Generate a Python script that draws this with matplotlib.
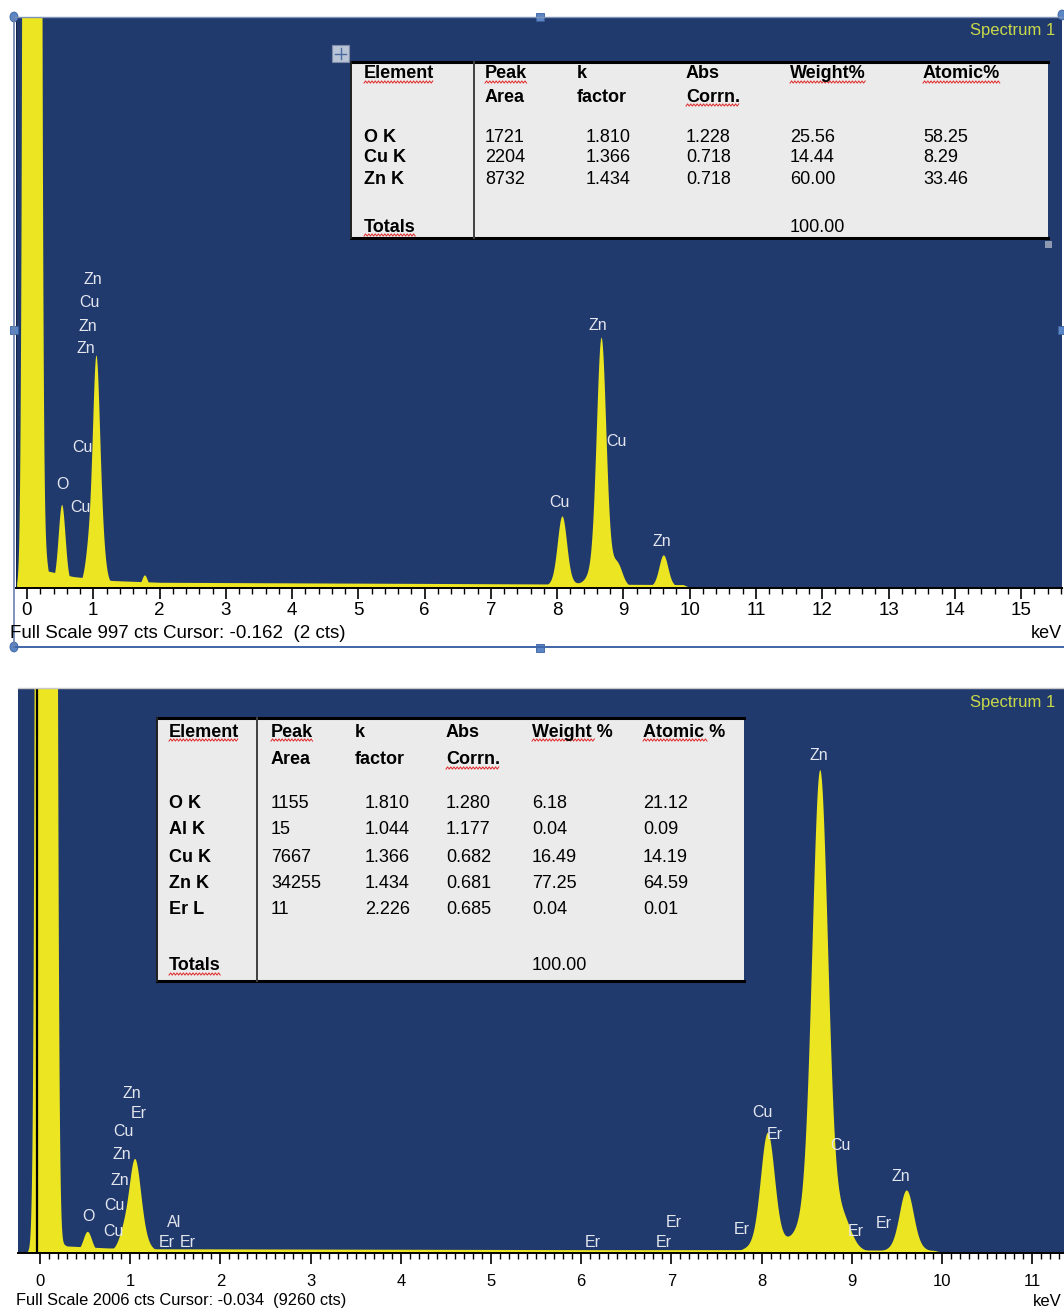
import numpy as np
import matplotlib
matplotlib.use('Agg')
import matplotlib.pyplot as plt
from matplotlib.patches import Rectangle, Circle
from matplotlib.lines import Line2D

W, H = 1064, 1312

BLUE = '#213a6e'
YELLOW = '#ece521'
LABEL_C = '#e4e6ee'
SPEC_C = '#c9d94a'
HANDLE_C = '#5b86c5'
TABLE_BG = '#ebebeb'
FONT = 'Liberation Sans'
NARROW = ['Liberation Sans Narrow', 'Liberation Sans']
TAIL = 0.12   # share of each line put into a wider foot

# ---------------- spectrum 1 (upper, ZnO/Cu) ----------------
top_full_scale = 997
top_cursor = -0.162
top_status = 'Full Scale 997 cts Cursor: -0.162  (2 cts)'
top_noise = (0.08, 50000, 0.055)          # zero-energy strobe peak (kev, cts, sigma)
top_peak_kev = [0.28, 0.53, 0.94, 1.045, 1.12, 1.78, 8.08, 8.67, 8.92, 9.61]
top_peak_cts = [45, 145, 50, 370, 70, 22, 125, 436, 30, 57]
top_peak_sig = [0.04, 0.05, 0.05, 0.05, 0.05, 0.04, 0.068, 0.07, 0.07, 0.065]
top_bg_kev = [-0.2, 0.3, 0.7, 1.3, 2.0, 4.0, 6.0, 8.0, 9.9, 10.0, 15.7]
top_bg_cts = [0, 30, 20, 13, 10, 9, 8, 7, 6, 1, 1]
top_labels = ['Zn', 'Cu', 'Zn', 'Zn', 'Cu', 'O', 'Cu', 'Zn', 'Cu', 'Cu', 'Zn']
top_label_kev = [1.00, 0.935, 0.92, 0.89, 0.83, 0.53, 0.80, 8.61, 8.90, 8.04, 9.58]
top_label_cts = [538, 498, 457, 419, 246, 180, 141, 459, 255, 150, 82]

top_headers1 = ['Element', 'Peak', 'k', 'Abs', 'Weight%', 'Atomic%']
top_headers2 = ['', 'Area', 'factor', 'Corrn.', '', '']
top_elements = ['O K', 'Cu K', 'Zn K']
top_area = ['1721', '2204', '8732']
top_kfactor = ['1.810', '1.366', '1.434']
top_abs = ['1.228', '0.718', '0.718']
top_weight = ['25.56', '14.44', '60.00']
top_atomic = ['58.25', '8.29', '33.46']
top_total = '100.00'

# ---------------- spectrum 1 (lower, Er doped) ----------------
bot_full_scale = 2006
bot_cursor = -0.034
bot_status = 'Full Scale 2006 cts Cursor: -0.034  (9260 cts)'
bot_noise = (0.07, 130000, 0.045)
bot_peak_kev = [0.28, 0.53, 0.93, 1.05, 1.12, 8.07, 8.65, 8.92, 9.61]
bot_peak_cts = [25, 75, 50, 300, 50, 425, 1712, 60, 222]
bot_peak_sig = [0.04, 0.045, 0.05, 0.06, 0.06, 0.075, 0.085, 0.08, 0.075]
bot_bg_kev = [-0.25, 0.3, 0.75, 1.3, 3.0, 6.0, 7.9, 9.9, 10.0, 11.4]
bot_bg_cts = [0, 25, 18, 15, 14, 12, 12, 10, 3, 3]
bot_labels = ['Zn', 'Er', 'Cu', 'Zn', 'Zn', 'Cu', 'O', 'Cu', 'Al', 'Er', 'Er',
              'Er', 'Er', 'Er', 'Er', 'Cu', 'Er', 'Zn', 'Cu', 'Er', 'Er', 'Zn']
bot_label_kev = [1.02, 1.10, 0.93, 0.91, 0.885, 0.83, 0.54, 0.81, 1.49, 1.41, 1.64,
                 6.13, 6.91, 7.03, 7.78, 8.01, 8.15, 8.63, 8.87, 9.04, 9.35, 9.54]
bot_label_cts = [568, 494, 430, 351, 259, 167, 131, 78, 110, 36, 36,
                 39, 39, 110, 82, 500, 422, 1765, 383, 75, 103, 270]

bot_headers1 = ['Element', 'Peak', 'k', 'Abs', 'Weight %', 'Atomic %']
bot_headers2 = ['', 'Area', 'factor', 'Corrn.', '', '']
bot_elements = ['O K', 'Al K', 'Cu K', 'Zn K', 'Er L']
bot_area = ['1155', '15', '7667', '34255', '11']
bot_kfactor = ['1.810', '1.044', '1.366', '1.434', '2.226']
bot_abs = ['1.280', '1.177', '0.682', '0.681', '0.685']
bot_weight = ['6.18', '0.04', '16.49', '77.25', '0.04']
bot_atomic = ['21.12', '0.09', '14.19', '64.59', '0.01']
bot_total = '100.00'


def fx(x):
    return x / W


def fy(y):
    return 1 - y / H


def rect(fig, x0, y0, x1, y1, **kw):
    fig.add_artist(Rectangle((fx(x0), fy(y1)), (x1 - x0) / W, (y1 - y0) / H,
                             transform=fig.transFigure, **kw))


def hline(fig, x0, x1, y, **kw):
    fig.add_artist(Line2D([fx(x0), fx(x1)], [fy(y), fy(y)], transform=fig.transFigure, **kw))


def vline(fig, x, y0, y1, **kw):
    fig.add_artist(Line2D([fx(x), fx(x)], [fy(y0), fy(y1)], transform=fig.transFigure, **kw))


def gauss(e, c, s):
    return np.exp(-0.5 * ((e - c) / s) ** 2)


def draw_spectrum(ax, xlim, full_scale, noise, bg_kev, bg_cts, pk_kev, pk_cts, pk_sig,
                  labels, lab_kev, lab_cts, cursor, cursor_color, major, minor,
                  tick_font, tick_size, tick_pad):
    ax.set_facecolor(BLUE)
    ax.set_xlim(*xlim)
    ax.set_ylim(0, full_scale)
    e = np.linspace(xlim[0], xlim[1], 6000)
    counts = noise[1] * gauss(e, noise[0], noise[2])
    for c, h, s in zip(pk_kev, pk_cts, pk_sig):
        counts += h * ((1 - TAIL) * gauss(e, c, s) + TAIL * gauss(e, c, 2.2 * s))
    ax.fill_between(bg_kev, 0, bg_cts, color=YELLOW, lw=0)
    ax.fill_between(e, 0, counts, color=YELLOW, lw=0)
    ax.axvline(cursor, color=cursor_color, lw=1.6)
    for t, x, y in zip(labels, lab_kev, lab_cts):
        ax.text(x, y, t, color=LABEL_C, ha='center', va='center',
                fontsize=11.5, family=FONT)
    for s in ['left', 'right', 'top']:
        ax.spines[s].set_visible(False)
    ax.spines['bottom'].set_color('black')
    ax.spines['bottom'].set_linewidth(1.4)
    ax.set_yticks([])
    ax.set_xticks(np.arange(0, major + 1))
    ax.set_xticks(np.arange(0, xlim[1], minor), minor=True)
    ax.set_xticklabels([str(i) for i in range(major + 1)], family=tick_font,
                       fontsize=tick_size)
    ax.tick_params(axis='x', which='major', direction='out', length=8, width=1.2,
                   pad=tick_pad)
    ax.tick_params(axis='x', which='minor', direction='out', length=4, width=1.0)


def draw_table(fig, box, divider, col_x, k_x, y_h1, y_h2, headers1, headers2,
               rows, row_y, total_y, total, underline_words):
    x0, y0, x1, y1 = box
    rect(fig, x0, y0, x1, y1, facecolor=TABLE_BG, edgecolor='none')
    hline(fig, x0, x1, y0, color='black', lw=2.2)
    hline(fig, x0, x1, y1, color='black', lw=2.2)
    vline(fig, x0, y0, y1, color='#202020', lw=1.4)
    vline(fig, divider, y0, y1, color='#404040', lw=1.4)
    texts = []
    for i, (h1, h2) in enumerate(zip(headers1, headers2)):
        t = fig.text(fx(col_x[i]), fy(y_h1), h1, ha='left', va='center',
                     fontsize=13, weight='bold', family=FONT)
        texts.append((t, h1))
        if h2:
            t = fig.text(fx(col_x[i]), fy(y_h2), h2, ha='left', va='center',
                         fontsize=13, weight='bold', family=FONT)
            texts.append((t, h2))
    for j, row in enumerate(zip(*rows)):
        for i, val in enumerate(row):
            x = k_x if i == 2 else col_x[i]
            fig.text(fx(x), fy(row_y[j]), val, ha='left', va='center', fontsize=13,
                     weight='bold' if i == 0 else 'normal', family=FONT)
    t = fig.text(fx(col_x[0]), fy(total_y), 'Totals', ha='left', va='center',
                 fontsize=13, weight='bold', family=FONT)
    texts.append((t, 'Totals'))
    fig.text(fx(col_x[4]), fy(total_y), total, ha='left', va='center',
             fontsize=13, family=FONT)
    return [(t, s) for t, s in texts if s in underline_words]


def squiggles(fig, items):
    # red spell-check underline below each flagged word
    r = fig.canvas.get_renderer()
    for t, s in items:
        bb = t.get_window_extent(renderer=r)
        x1 = bb.x1
        if s.endswith(' %'):
            x1 = bb.x0 + 0.78 * bb.width
        xs = np.arange(bb.x0, x1, 1.6)
        ys = bb.y0 + 0.5 + 1.1 * np.where(np.arange(len(xs)) % 2 == 0, -1, 1)
        fig.add_artist(Line2D(xs / W, ys / H, transform=fig.transFigure,
                              color='#e02828', lw=0.7))


fig = plt.figure(figsize=(W / 100, H / 100), dpi=100)
fig.patch.set_facecolor('white')

# upper spectrum: 0 keV at x=27 px, 66.27 px per keV
ax_top = fig.add_axes([fx(16), fy(588), (1062 - 16) / W, (588 - 17) / H])
draw_spectrum(ax_top, ((16 - 27) / 66.27, (1062 - 27) / 66.27), top_full_scale, top_noise,
              top_bg_kev, top_bg_cts, top_peak_kev, top_peak_cts, top_peak_sig,
              top_labels, top_label_kev, top_label_cts, top_cursor, '#14234a',
              15, 0.2, NARROW, 13.5, 2)

# lower spectrum: 0 keV at x=40 px, 90.2 px per keV
ax_bot = fig.add_axes([fx(18), fy(1253), (1064 - 18) / W, (1253 - 688) / H])
draw_spectrum(ax_bot, ((18 - 40) / 90.2, (1064 - 40) / 90.2), bot_full_scale, bot_noise,
              bot_bg_kev, bot_bg_cts, bot_peak_kev, bot_peak_cts, bot_peak_sig,
              bot_labels, bot_label_kev, bot_label_cts, bot_cursor, 'black',
              11, 0.1, FONT, 12, 7)

# status lines and units
fig.text(fx(10), fy(633), top_status, ha='left', va='center', fontsize=13.5, family=NARROW)
fig.text(fx(1062), fy(633), 'keV', ha='right', va='center', fontsize=13, family=NARROW)
fig.text(fx(16), fy(1301), bot_status, ha='left', va='center', fontsize=11.8, family=NARROW)
fig.text(fx(1062), fy(1301), 'keV', ha='right', va='center', fontsize=12, family=NARROW)

fig.text(fx(1055), fy(31), 'Spectrum 1', ha='right', va='center', fontsize=12,
         color=SPEC_C, family=FONT)
fig.text(fx(1055), fy(702), 'Spectrum 1', ha='right', va='center', fontsize=12,
         color=SPEC_C, family=FONT)

# selection frame around the upper spectrum
hline(fig, 14, 1062, 17, color='#7f93b8', lw=1.0)
hline(fig, 14, 1064, 647, color='#3f66a8', lw=1.4)
vline(fig, 14, 17, 647, color='#6a82b0', lw=1.2)
for hx, hy in [(540, 17), (14, 330), (1062, 330), (540, 648)]:
    rect(fig, hx - 4, hy - 4, hx + 4, hy + 4, facecolor=HANDLE_C, edgecolor='#3a5f9a', lw=0.6)
for hx, hy in [(14, 17), (14, 647), (1062, 15)]:
    fig.add_artist(Circle((fx(hx), fy(hy)), 4 / W, transform=fig.transFigure,
                          facecolor=HANDLE_C, edgecolor='#3a5f9a', lw=0.6))
hline(fig, 18, 1064, 687.5, color='#c8c8c8', lw=1.0)

# table move / resize handles
rect(fig, 332, 45, 349, 62, facecolor='#b9c4d6', edgecolor='#7d8ca6', lw=0.8)
hline(fig, 335, 346, 53.5, color='#4a6aa0', lw=1.0)
vline(fig, 340.5, 48, 59, color='#4a6aa0', lw=1.0)
rect(fig, 1045, 241, 1052, 248, facecolor='#8d99b0', edgecolor='none')

top_flags = draw_table(fig, (351, 62, 1048, 238), 474, [364, 485, 577, 686, 790, 923], 586,
                       74, 97, top_headers1, top_headers2,
                       [top_elements, top_area, top_kfactor, top_abs, top_weight, top_atomic],
                       [137, 158, 180], 227, top_total,
                       ['Element', 'Peak', 'Corrn.', 'Weight%', 'Atomic%', 'Totals'])

bot_flags = draw_table(fig, (157, 718, 744, 981), 257, [169, 271, 355, 446, 532, 643], 365,
                       732, 760, bot_headers1, bot_headers2,
                       [bot_elements, bot_area, bot_kfactor, bot_abs, bot_weight, bot_atomic],
                       [803, 830, 857, 883, 910], 966, bot_total,
                       ['Element', 'Peak', 'Corrn.', 'Weight %', 'Atomic %', 'Totals'])

fig.canvas.draw()
squiggles(fig, top_flags + bot_flags)

fig.savefig('out.png', dpi=100, facecolor='white')
